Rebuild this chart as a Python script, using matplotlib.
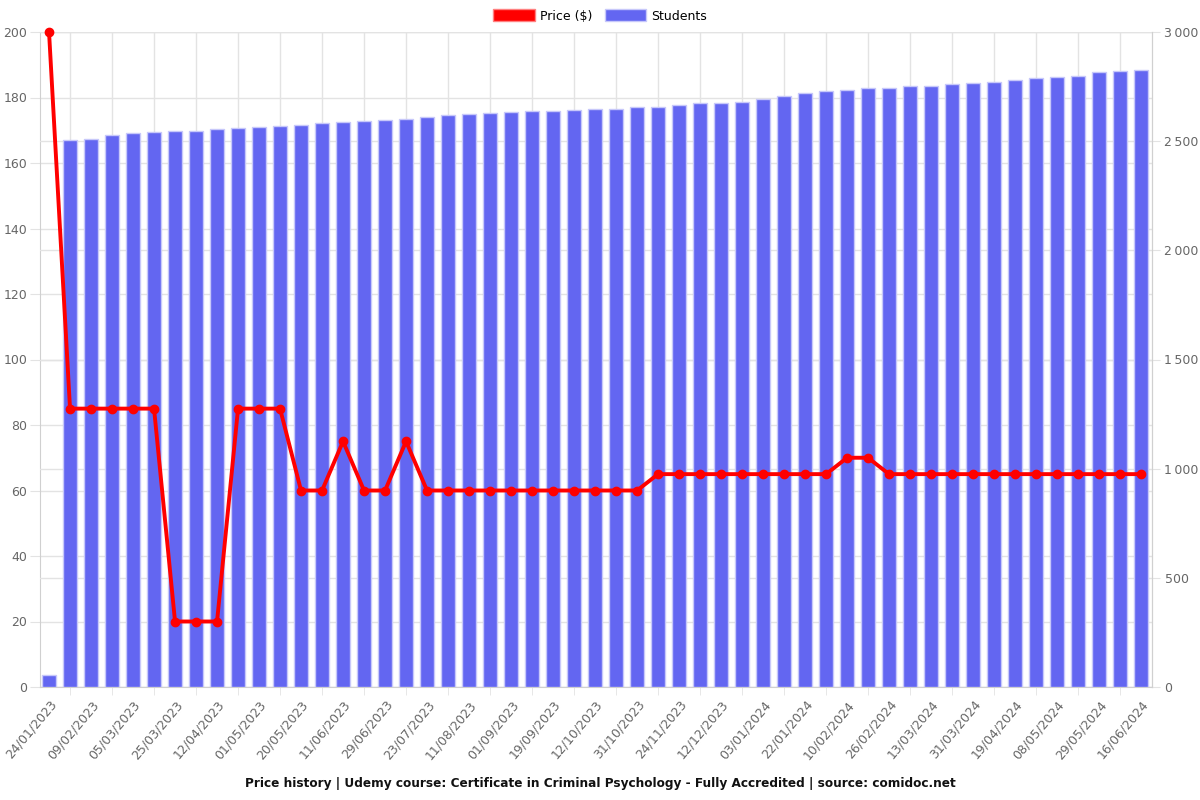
import matplotlib
matplotlib.use("Agg")
import matplotlib.pyplot as plt
from matplotlib.patches import Patch
from matplotlib.ticker import FuncFormatter, MultipleLocator

dates = ["24/01/2023", "", "09/02/2023", "", "05/03/2023", "", "25/03/2023", "",
         "12/04/2023", "", "01/05/2023", "", "20/05/2023", "", "11/06/2023", "",
         "29/06/2023", "", "23/07/2023", "", "11/08/2023", "", "01/09/2023", "",
         "19/09/2023", "", "12/10/2023", "", "31/10/2023", "", "24/11/2023", "",
         "12/12/2023", "", "03/01/2024", "", "22/01/2024", "", "10/02/2024", "",
         "26/02/2024", "", "13/03/2024", "", "31/03/2024", "", "19/04/2024", "",
         "08/05/2024", "", "29/05/2024", "", "16/06/2024"]

price = [200, 85, 85, 85, 85, 85, 20, 20, 20, 85, 85, 85, 60, 60, 75, 60, 60, 75,
         60, 60, 60, 60, 60, 60, 60, 60, 60, 60, 60, 65, 65, 65, 65, 65, 65, 65,
         65, 65, 70, 70, 65, 65, 65, 65, 65, 65, 65, 65, 65, 65, 65, 65, 65]

students = [55, 2505, 2510, 2527, 2536, 2542, 2545, 2548, 2556, 2559, 2565, 2568,
            2574, 2582, 2588, 2592, 2597, 2600, 2610, 2618, 2624, 2628, 2635, 2638,
            2640, 2643, 2646, 2649, 2656, 2658, 2666, 2673, 2675, 2679, 2692, 2708,
            2719, 2728, 2734, 2742, 2745, 2751, 2754, 2760, 2765, 2772, 2781, 2788,
            2795, 2798, 2818, 2823, 2827]

title = ("Price history | Udemy course: Certificate in Criminal Psychology - "
         "Fully Accredited | source: comidoc.net")

BAR = "#6366f1"
EDGE = "#c7c8fa"
RED = "#ff0000"
GRID = "#e3e3e3"
TXT = "#666666"

x = list(range(len(dates)))

fig = plt.figure(figsize=(12, 8), dpi=100)
rect = [40 / 1200, 1 - 687 / 800, 1112 / 1200, 655 / 800]
ax = fig.add_axes(rect)
ax2 = ax.twinx()
ax3 = ax.twinx()

xlim = (-0.43, 52.52)
for a in (ax, ax2, ax3):
    a.set_xlim(*xlim)

# left axis
ax.set_ylim(0, 200)
ax.yaxis.set_major_locator(MultipleLocator(20))
ax.grid(True, axis="y", color=GRID, linewidth=1)
ax.set_axisbelow(True)
# labels on even categories, tick marks + vertical grid on odd categories
ax.set_xticks(x[::2])
ax.set_xticklabels([d for d in dates[::2]], rotation=50, ha="right",
                   rotation_mode="anchor", fontsize=9, color=TXT)
ax.set_xticks(x[1::2], minor=True)
ax.grid(True, axis="x", which="minor", color=GRID, linewidth=1)
ax.tick_params(axis="x", which="major", length=0, pad=8)
ax.tick_params(axis="x", which="minor", length=6, color=GRID)
ax.tick_params(axis="y", labelsize=9, colors=TXT, length=7, pad=2, color=GRID)

# right axis (students)
ax2.set_ylim(0, 3000)
ax2.yaxis.set_major_locator(MultipleLocator(500))
ax2.yaxis.set_major_formatter(
    FuncFormatter(lambda v, p: f"{int(v):,}".replace(",", "\u202f")))
ax2.grid(True, axis="y", color=GRID, linewidth=1)
ax2.set_axisbelow(True)
ax2.tick_params(axis="y", labelsize=9, colors=TXT, length=6, pad=3, color=GRID)
ax2.bar(x, students, width=0.68, color=BAR, edgecolor=EDGE, linewidth=1, zorder=2)

# price line on top
ax3.set_ylim(0, 200)
ax3.plot(x, price, color=RED, linewidth=2.8, marker="o", markersize=6,
         clip_on=False, zorder=3)
ax3.axis("off")

for a in (ax, ax2):
    for s in a.spines.values():
        s.set_color("#d0d0d0")
    a.spines["top"].set_visible(False)
ax2.spines["left"].set_visible(False)
ax2.spines["bottom"].set_visible(False)

handles = [Patch(facecolor=RED, edgecolor="#ff8080", label="Price ($)"),
           Patch(facecolor=BAR, edgecolor=EDGE, label="Students")]
fig.legend(handles=handles, loc="center", bbox_to_anchor=(0.5, 1 - 16 / 800),
           ncol=2, frameon=False, fontsize=9, handlelength=3.3, handleheight=1.1,
           columnspacing=1.0, handletextpad=0.4)

fig.text(0.5, 1 - 783 / 800, title, ha="center", va="center",
         fontsize=8.7, fontweight="bold", color="#111111")

fig.savefig("out.png", dpi=100)
